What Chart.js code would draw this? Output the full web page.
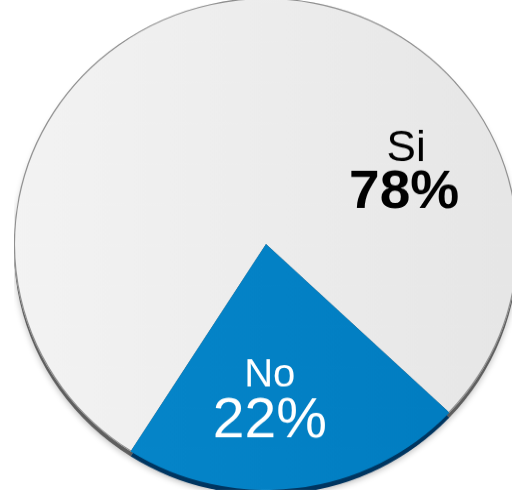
<!DOCTYPE html>
<html>
<head>
<meta charset="utf-8">
<script src="https://cdn.jsdelivr.net/npm/chart.js@4/dist/chart.umd.min.js"></script>
<style>
  html, body { margin: 0; padding: 0; background: #fff; overflow: hidden; }
  body { width: 512px; height: 504px; position: relative; }
  /* pastel ligeramente inclinado */
  #grafico { position: absolute; left: 14px; top: -8px; transform: scaleY(0.976); transform-origin: 50% 50%; }
</style>
</head>
<body>
<canvas id="grafico" width="504" height="504"></canvas>
<script>
// respuestas de la encuesta
const categorias = ['Si', 'No'];
const porcentajes = [78, 22];

const coloresCara = [['#f3f3f3', '#e6e6e6'], ['#0788cc', '#007bbf']];
const coloresBorde = ['#5e5e5e', '#003560'];

// texto de cada porción: desplazamiento desde el centro en fracción del radio
const estiloEtiquetas = [
    { dx: 0.556, nombreDy: -0.337, valorDy: -0.146, color: '#000', pesoValor: 'bold', tamNombre: 44, tamValor: 55 },
    { dx: 0.015, nombreDy: 0.581, valorDy: 0.785, color: '#fff', pesoValor: 'normal', tamNombre: 40, tamValor: 57 }
];

function relleno(context) {
    const chart = context.chart;
    const area = chart.chartArea;
    if (!area) return coloresCara[context.dataIndex][1];
    const g = chart.ctx.createLinearGradient(area.left, 0, area.right, 0);
    g.addColorStop(0, coloresCara[context.dataIndex][0]);
    g.addColorStop(1, coloresCara[context.dataIndex][1]);
    return g;
}

// borde inferior (grosor 3D) y contorno exterior
const bordePastel = {
    id: 'bordePastel',
    beforeDatasetsDraw(chart) {
        const ctx = chart.ctx;
        const arcos = chart.getDatasetMeta(0).data;
        ctx.save();
        ctx.shadowColor = 'rgba(0,0,0,0.25)';
        ctx.shadowBlur = 6;
        ctx.shadowOffsetY = 2;
        arcos.forEach((a, i) => {
            ctx.beginPath();
            ctx.moveTo(a.x, a.y + 5);
            ctx.arc(a.x, a.y + 5, a.outerRadius, a.startAngle, a.endAngle);
            ctx.closePath();
            ctx.fillStyle = coloresBorde[i];
            ctx.fill();
        });
        ctx.restore();
    },
    afterDatasetsDraw(chart) {
        const ctx = chart.ctx;
        const a = chart.getDatasetMeta(0).data[0];
        ctx.save();
        ctx.beginPath();
        ctx.arc(a.x, a.y, a.outerRadius - 0.5, a.startAngle, a.endAngle);
        ctx.strokeStyle = '#8f8f8f';
        ctx.lineWidth = 1.2;
        ctx.stroke();
        ctx.restore();
    }
};

const etiquetasPastel = {
    id: 'etiquetasPastel',
    afterDraw(chart) {
        const ctx = chart.ctx;
        const arcos = chart.getDatasetMeta(0).data;
        ctx.save();
        ctx.textAlign = 'center';
        ctx.textBaseline = 'alphabetic';
        arcos.forEach((a, i) => {
            const e = estiloEtiquetas[i];
            const r = a.outerRadius;
            const x = a.x + e.dx * r;
            ctx.fillStyle = e.color;
            ctx.font = 'normal ' + e.tamNombre + 'px "Liberation Sans", Arial, sans-serif';
            ctx.fillText(categorias[i], x, a.y + e.nombreDy * r);
            ctx.font = e.pesoValor + ' ' + e.tamValor + 'px "Liberation Sans", Arial, sans-serif';
            ctx.fillText(porcentajes[i] + '%', x - (i === 0 ? 2 : 0), a.y + e.valorDy * r);
        });
        ctx.restore();
    }
};

new Chart(document.getElementById('grafico'), {
    type: 'pie',
    data: {
        labels: categorias,
        datasets: [{
            data: porcentajes,
            backgroundColor: relleno,
            borderWidth: 0,
            hoverOffset: 0
        }]
    },
    options: {
        responsive: false,
        animation: false,
        rotation: 212.5,
        layout: { padding: 0 },
        plugins: {
            legend: { display: false },
            tooltip: { enabled: false }
        }
    },
    plugins: [bordePastel, etiquetasPastel]
});
</script>
</body>
</html>
